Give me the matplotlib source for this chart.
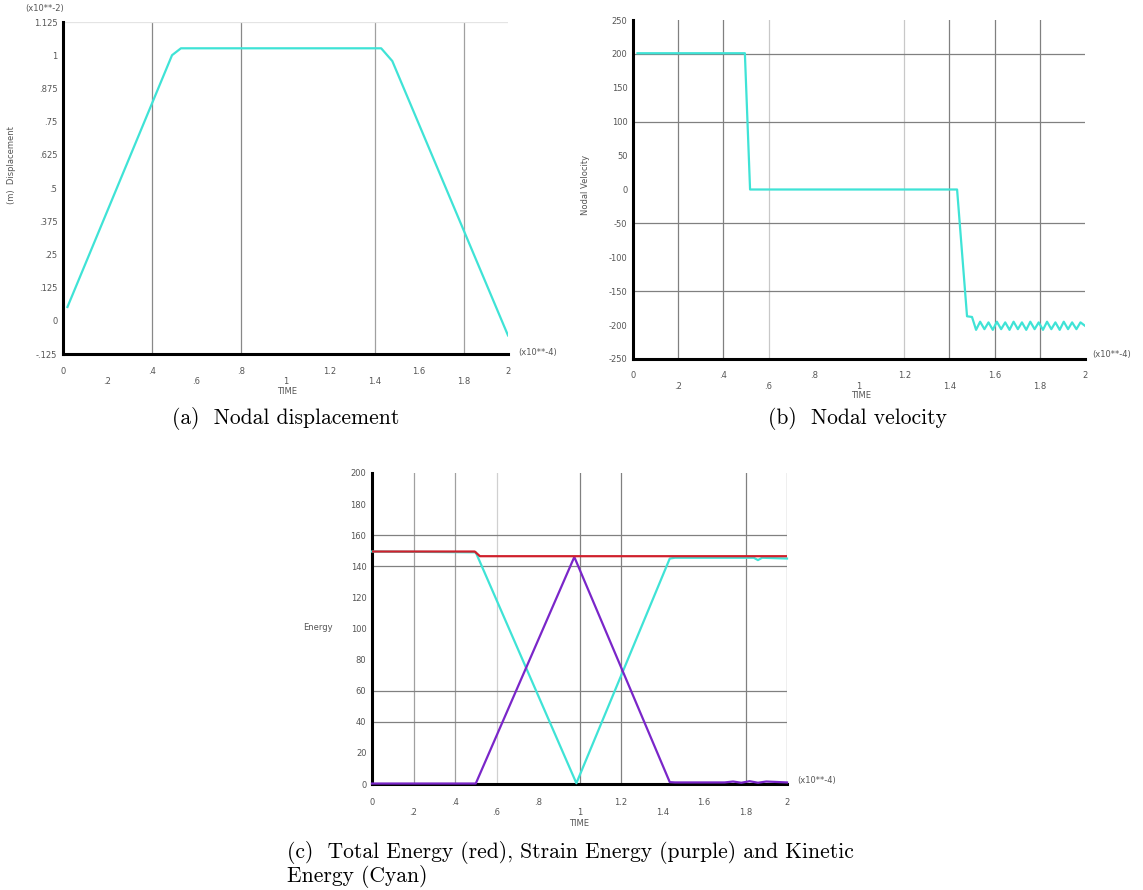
import matplotlib
matplotlib.use("Agg")
import matplotlib.pyplot as plt

# ---------------- data ----------------
x_ticks = [0, 0.2, 0.4, 0.6, 0.8, 1.0, 1.2, 1.4, 1.6, 1.8, 2.0]
x_tick_labels = ["0", ".2", ".4", ".6", ".8", "1", "1.2", "1.4", "1.6", "1.8", "2"]

# (a) nodal displacement (x10**-2) vs time (x10**-4)
disp_time = [0.02, 0.49, 0.53, 1.43, 1.48, 2.00]
disp_value = [0.052, 1.000, 1.026, 1.026, 0.978, -0.055]
disp_yticks = [-0.125, 0, 0.125, 0.25, 0.375, 0.5, 0.625, 0.75, 0.875, 1.0, 1.125]
disp_ytick_labels = ["-.125", "0", ".125", ".25", ".375", ".5", ".625", ".75", ".875", "1", "1.125"]

# (b) nodal velocity
vel_time = [0.02, 0.495, 0.518, 1.434, 1.478, 1.500,
            1.518, 1.536, 1.555, 1.573, 1.592, 1.610, 1.629, 1.647, 1.666,
            1.684, 1.703, 1.721, 1.740, 1.758, 1.777, 1.795, 1.814, 1.832,
            1.851, 1.869, 1.888, 1.906, 1.925, 1.943, 1.962, 1.980, 2.000]
vel_value = [201, 201, 0, 0, -187, -188,
             -207, -195, -206, -196, -207, -195, -206, -196, -207,
             -195, -206, -196, -207, -195, -206, -196, -207, -195,
             -206, -196, -207, -195, -206, -196, -206, -196, -201]
vel_yticks = [-250, -200, -150, -100, -50, 0, 50, 100, 150, 200, 250]
vel_ytick_labels = ["-250", "-200", "-150", "-100", "-50", "0", "50", "100", "150", "200", "250"]

# (c) energies
total_time = [0.0, 0.495, 0.52, 2.0]
total_energy = [149.5, 149.5, 146.5, 146.5]
kin_time = [0.0, 0.50, 0.985, 1.435, 1.46, 1.84, 1.86, 1.88, 2.0]
kin_energy = [149.5, 149.0, 0.5, 145.0, 145.5, 145.5, 144.0, 145.5, 145.0]
strain_time = [0.0, 0.50, 0.975, 1.435, 1.46, 1.70, 1.74, 1.78, 1.82, 1.86, 1.90, 2.0]
strain_energy = [0.3, 0.3, 146.0, 1.2, 1.0, 1.0, 1.6, 0.8, 1.8, 0.8, 1.6, 1.0]
en_yticks = [0, 20, 40, 60, 80, 100, 120, 140, 160, 180, 200]
en_ytick_labels = ["0", "20", "40", "60", "80", "100", "120", "140", "160", "180", "200"]

CYAN = "#3fe3d6"
PURPLE = "#7a26c9"
RED = "#d0202c"
TICKC = "#555555"

W, H = 1143, 890
fig = plt.figure(figsize=(W / 100, H / 100), dpi=100)


def rect(l, t, r, b):
    return [l / W, 1 - b / H, (r - l) / W, (b - t) / H]


def fpx(x, y):
    return x / W, 1 - y / H


def style(ax, ylim, yt, ytl, pad=9):
    ax.set_xlim(0, 2)
    ax.set_ylim(*ylim)
    for s in ["top", "right"]:
        ax.spines[s].set_visible(False)
    for s in ["left", "bottom"]:
        ax.spines[s].set_linewidth(2.2)
        ax.spines[s].set_color("black")
    labs = [l if i % 2 == 0 else "\n" + l for i, l in enumerate(x_tick_labels)]
    ax.set_xticks(x_ticks, labs)
    ax.set_yticks(yt, ytl)
    ax.tick_params(axis="x", length=0, labelsize=6, labelcolor=TICKC, pad=pad)
    ax.tick_params(axis="y", length=0, labelsize=6, labelcolor=TICKC, pad=4)
    for lab in ax.get_xticklabels():
        lab.set_linespacing(1.15)


def vgrid(ax, xs, color, lw=0.9):
    for x in xs:
        ax.axvline(x, color=color, lw=lw, zorder=1)


def hgrid(ax, ys, color, lw=0.9):
    for y in ys:
        ax.axhline(y, color=color, lw=lw, zorder=1)


# ---------- panel (a) ----------
axA = fig.add_axes(rect(63, 22, 508, 354))
style(axA, (-0.125, 1.125), disp_yticks, disp_ytick_labels)
vgrid(axA, [0.4, 0.8], "#888888")
vgrid(axA, [1.4, 1.8], "#a0a0a0")
hgrid(axA, [1.125], "#e4e4e4")
axA.plot(disp_time, disp_value, color=CYAN, lw=1.6, zorder=3)
fig.text(*fpx(25, 8), "(x10**-2)", fontsize=6, color=TICKC, va="center", ha="left")
fig.text(*fpx(518, 352), "(x10**-4)", fontsize=6, color=TICKC, va="center", ha="left")
fig.text(*fpx(287, 391), "TIME", fontsize=6, color=TICKC, va="center", ha="center")
fig.text(*fpx(12, 165), "(m)  Displacement", fontsize=6, color=TICKC, rotation=90,
         va="center", ha="center")

# ---------- panel (b) ----------
axB = fig.add_axes(rect(633, 20, 1085, 359))
style(axB, (-250, 250), vel_yticks, vel_ytick_labels)
vgrid(axB, [0.2, 0.4, 1.4, 1.6, 1.8], "#808080")
vgrid(axB, [0.6, 1.2], "#c8c8c8")
hgrid(axB, [200, 100, -50, -150], "#808080")
axB.plot(vel_time, vel_value, color=CYAN, lw=1.6, zorder=3)
fig.text(*fpx(1092, 355), "(x10**-4)", fontsize=6, color=TICKC, va="center", ha="left")
fig.text(*fpx(861, 395), "TIME", fontsize=6, color=TICKC, va="center", ha="center")
fig.text(*fpx(585, 185), "Nodal Velocity", fontsize=6, color=TICKC, rotation=90,
         va="center", ha="center")

# ---------- panel (c) ----------
axC = fig.add_axes(rect(372, 473, 787, 784))
style(axC, (0, 200), en_yticks, en_ytick_labels, pad=10)
vgrid(axC, [1.0, 1.2, 1.8, 2.0], "#808080")
vgrid(axC, [0.2, 0.4], "#a0a0a0")
vgrid(axC, [0.6], "#d0d0d0")
hgrid(axC, [160, 140, 60, 40], "#808080")
axC.plot(kin_time, kin_energy, color=CYAN, lw=1.6, zorder=3, clip_on=False)
axC.plot(strain_time, strain_energy, color=PURPLE, lw=1.6, zorder=4, clip_on=False)
axC.plot(total_time, total_energy, color=RED, lw=1.6, zorder=5)
fig.text(*fpx(797, 781), "(x10**-4)", fontsize=6, color=TICKC, va="center", ha="left")
fig.text(*fpx(579, 824), "TIME", fontsize=6, color=TICKC, va="center", ha="center")
fig.text(*fpx(318, 627), "Energy", fontsize=6, color=TICKC, va="center", ha="center")

# ---------- captions ----------
cap = dict(fontsize=15.5, family="cmr10", color="black")
fig.text(*fpx(286, 419), "(a)  Nodal displacement", ha="center", va="center", **cap)
fig.text(*fpx(857, 419), "(b)  Nodal velocity", ha="center", va="center", **cap)
fig.text(*fpx(287, 853), "(c)  Total Energy (red), Strain Energy (purple) and Kinetic",
         ha="left", va="center", **cap)
fig.text(*fpx(287, 877), "Energy (Cyan)", ha="left", va="center", **cap)

fig.savefig("out.png", dpi=100)
